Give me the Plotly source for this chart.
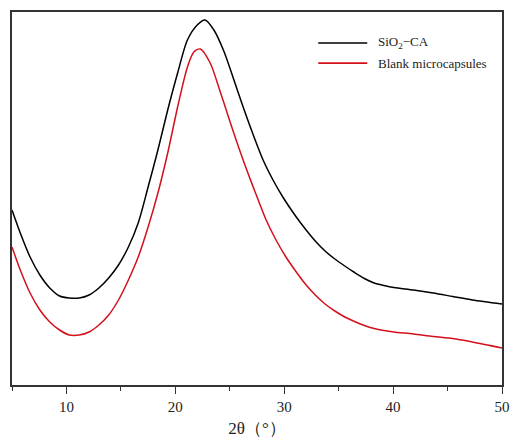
import plotly.graph_objects as go

# 2θ positions (degrees) and relative intensities
theta_black = [5.0, 5.76, 6.66, 7.56, 8.47, 9.37, 10.27, 11.18, 12.08, 12.98, 13.88,
               14.78, 15.69, 16.59, 17.5, 18.4, 19.3, 20.21, 21.11, 22.01, 22.73,
               23.54, 24.45, 25.35, 26.26, 27.16, 28.06, 28.97, 29.87, 31.04, 31.94,
               32.85, 33.75, 34.65, 35.56, 36.46, 37.36, 38.26, 39.16, 40.07, 41.87,
               43.68, 45.48, 47.29, 50.0]
int_black = [175, 152, 128, 110, 97, 89, 87, 87, 90, 97, 107,
             120, 138, 162, 198, 235, 275, 312, 345, 360, 365,
             355, 334, 306, 277, 250, 225, 205, 188, 169, 156,
             144, 134, 126, 119, 112.5, 106.5, 102, 99.5, 97.5, 95,
             92, 88.5, 85, 81]

theta_red = [5.0, 5.76, 6.66, 7.56, 8.47, 9.37, 10.27, 11.18, 12.08, 12.98, 13.88,
             14.78, 15.69, 16.59, 17.5, 18.4, 19.3, 20.21, 21.11, 21.7, 22.3,
             23.2, 24.1, 25.0, 25.9, 26.8, 27.4, 28.3, 29.2, 30.1, 31.04,
             31.94, 32.85, 33.75, 34.65, 35.56, 36.46, 37.36, 38.26, 39.16, 40.07,
             41.87, 43.68, 45.48, 47.29, 50.0]
int_red = [138, 115, 92, 75, 63, 55, 50, 50, 53, 60, 70,
           85, 105, 128, 158, 192, 232, 278, 318, 333, 336,
           322, 294, 264, 235, 208, 191, 166, 146, 129, 114,
           101, 90, 81, 74, 68, 63.5, 59.5, 56.5, 54.5, 53,
           51, 48.5, 46.5, 43, 37]

series_names = ["SiO<sub>2</sub>−CA", "Blank microcapsules"]
series_colors = ["#000000", "#d4101c"]
x_ticks = [10, 20, 30, 40, 50]

fig = go.Figure()
fig.add_trace(go.Scatter(x=theta_black, y=int_black, mode="lines", line_shape="spline",
                         line=dict(color=series_colors[0], width=1.5, smoothing=0.8), showlegend=False))
fig.add_trace(go.Scatter(x=theta_red, y=int_red, mode="lines", line_shape="spline",
                         line=dict(color=series_colors[1], width=1.5, smoothing=0.8), showlegend=False))

font_family = "Liberation Serif, Times New Roman, serif"

# custom legend (paper coordinates)
leg_y = [0.917, 0.863]
for name, col, yy in zip(series_names, series_colors, leg_y):
    fig.add_shape(type="line", xref="paper", yref="paper", x0=0.625, x1=0.725, y0=yy, y1=yy,
                  line=dict(color=col, width=1.6))
    fig.add_annotation(xref="paper", yref="paper", x=0.742, y=yy, xanchor="left", yanchor="middle",
                       text=name, showarrow=False, font=dict(family=font_family, size=13, color="#222"))

fig.update_layout(
    width=518, height=443,
    margin=dict(l=11.6, r=8, t=12, b=58),
    plot_bgcolor="white", paper_bgcolor="white",
    font=dict(family=font_family, color="#222"),
    xaxis=dict(range=[5, 50], tickvals=x_ticks, ticks="outside", ticklen=7, tickwidth=1.3,
               tickcolor="#333", showline=True, linecolor="#333", linewidth=1.5, mirror=True,
               showgrid=False, zeroline=False, tickfont=dict(size=15),
               minor=dict(dtick=5, tick0=5, ticks="outside", ticklen=4, tickcolor="#333", tickwidth=1.2),
               title=dict(text="2θ（°）", font=dict(size=17), standoff=8)),
    yaxis=dict(range=[0, 373], showticklabels=False, ticks="", showline=True, linecolor="#333",
               linewidth=1.5, mirror=True, showgrid=False, zeroline=False),
)

fig.write_html("out.html")
